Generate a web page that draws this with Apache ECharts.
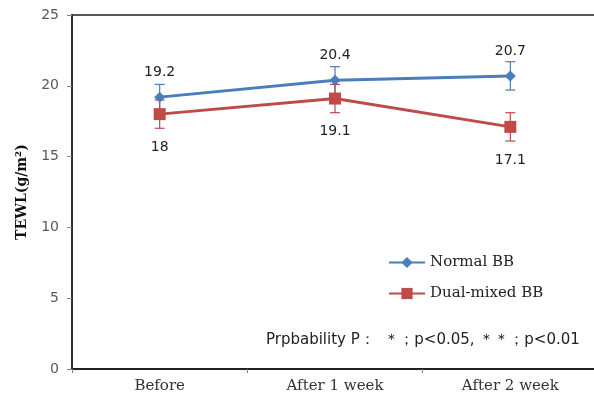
<!DOCTYPE html>
<html><head><meta charset="utf-8">
<script src="https://cdn.jsdelivr.net/npm/echarts@6/dist/echarts.min.js"></script>
<style>html,body{margin:0;padding:0;background:#fff}#c{width:594px;height:402px}</style>
</head><body><div id="c"></div>
<script>
const categories = ['Before', 'After 1 week', 'After 2 week'];
const normalBB = [19.2, 20.4, 20.7];
const normalErr = [0.9, 0.95, 1.0];
const dualBB = [18, 19.1, 17.1];
const dualErr = [1.0, 1.0, 1.0];
const yTicks = [0, 5, 10, 15, 20, 25];

const blue = '#4a7ebb', red = '#be4b48';

function errSeries(vals, errs, color) {
  return {
    type: 'custom', silent: true, z: 1,
    data: vals.map((v, i) => [i, v - errs[i], v + errs[i]]),
    renderItem: function (params, api) {
      const lo = api.coord([api.value(0), api.value(1)]);
      const hi = api.coord([api.value(0), api.value(2)]);
      const w = 5;
      const st = {stroke: color, lineWidth: 1.2};
      return {type: 'group', children: [
        {type: 'line', shape: {x1: lo[0], y1: lo[1], x2: hi[0], y2: hi[1]}, style: st},
        {type: 'line', shape: {x1: lo[0]-w, y1: lo[1], x2: lo[0]+w, y2: lo[1]}, style: st},
        {type: 'line', shape: {x1: hi[0]-w, y1: hi[1], x2: hi[0]+w, y2: hi[1]}, style: st}
      ]};
    }
  };
}

const chart = echarts.init(document.getElementById('c'));
chart.setOption({
  animation: false,
  grid: {left: 72, top: 15, right: -4, bottom: 33, outerBoundsMode: 'none', containLabel: false,
    show: true, borderColor: '#222', borderWidth: 1.5},
  xAxis: {
    type: 'category', data: categories, boundaryGap: true,
    axisLine: {lineStyle: {color: '#222', width: 2}},
    axisTick: {show: true, length: 4, lineStyle: {color: '#888'}},
    axisLabel: {fontFamily: 'DejaVu Serif', fontSize: 15, color: '#333', margin: 10}
  },
  yAxis: {
    type: 'value', min: 0, max: 25, interval: 5,
    name: 'TEWL(g/m²)', nameLocation: 'middle', nameGap: 43,
    nameTextStyle: {fontFamily: 'DejaVu Serif', fontWeight: 'bold', fontSize: 14, color: '#111'},
    axisLine: {show: true, lineStyle: {color: '#333', width: 2}},
    axisTick: {show: true, length: 5, lineStyle: {color: '#888'}},
    splitLine: {show: false},
    axisLabel: {fontFamily: 'DejaVu Sans', fontSize: 14, color: '#595959', margin: 13,
      formatter: v => yTicks.includes(v) ? String(v) : ''}
  },
  legend: {
    orient: 'vertical', left: 383, top: 250, itemGap: 16,
    itemWidth: 36, itemHeight: 14,
    textStyle: {fontFamily: 'DejaVu Serif', fontSize: 15, color: '#222'},
    data: ['Normal BB', 'Dual-mixed BB']
  },
  graphic: [{
    type: 'text', left: 266, top: 333,
    style: {text: 'Prpbability P：  ＊；p<0.05, ＊＊；p<0.01', fontFamily: 'DejaVu Sans', fontSize: 15, fill: '#222'}
  }],
  series: [
    errSeries(normalBB, normalErr, blue),
    errSeries(dualBB, dualErr, red),
    {
      name: 'Normal BB', type: 'line', data: normalBB, z: 3,
      symbol: 'diamond', symbolSize: 11,
      lineStyle: {color: blue, width: 3}, itemStyle: {color: blue},
      label: {show: true, position: 'top', distance: 12, fontFamily: 'DejaVu Sans', fontSize: 14, color: '#222'}
    },
    {
      name: 'Dual-mixed BB', type: 'line', data: dualBB, z: 3,
      symbol: 'rect', symbolSize: 12,
      lineStyle: {color: red, width: 3}, itemStyle: {color: red},
      label: {show: true, position: 'bottom', distance: 20, fontFamily: 'DejaVu Sans', fontSize: 14, color: '#222'}
    }
  ]
});
</script></body></html>
